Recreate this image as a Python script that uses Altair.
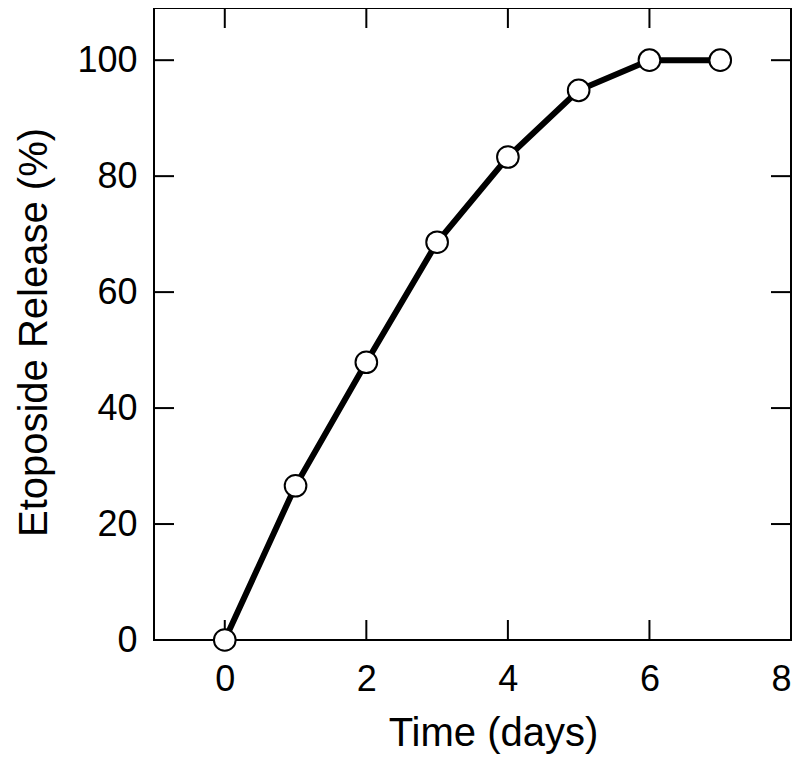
import altair as alt
import pandas as pd

days = [0, 1, 2, 3, 4, 5, 6, 7]
release = [0, 26.6, 47.9, 68.6, 83.3, 94.8, 100, 100]
x_ticks = [0, 2, 4, 6, 8]
y_ticks = [0, 20, 40, 60, 80, 100]

W, H = 637, 632
FONT = "Liberation Sans"

df = pd.DataFrame({"day": days, "release": release})
dfx = pd.DataFrame({"t": x_ticks})
dfy = pd.DataFrame({"v": y_ticks})

xscale = alt.Scale(domain=[-1, 8], nice=False, zero=False)
yscale = alt.Scale(domain=[0, 109], nice=False, zero=False)

xaxis = alt.Axis(
    values=x_ticks, title="Time (days)", grid=False, domain=False, ticks=False, tickSize=0,
    labelFont=FONT, labelFontSize=36, labelColor="black", labelPadding=50,
    labelBaseline="alphabetic", labelFlush=True, labelOverlap=False,
    titleFont=FONT, titleFontSize=40, titleFontWeight="normal", titleColor="black",
    titleX=339, titleY=105, titleBaseline="alphabetic", titleAlign="center",
)
yaxis = alt.Axis(
    values=y_ticks, title="Etoposide Release (%)", grid=False, domain=False, ticks=False, tickSize=0,
    labelFont=FONT, labelFontSize=36, labelColor="black", labelPadding=17,
    labelFlush=False, labelOverlap=False,
    titleFont=FONT, titleFontSize=40, titleFontWeight="normal", titleColor="black",
    titleX=-108, titleY=324, titleBaseline="alphabetic", titleAlign="center", titleAngle=-90,
)

line = alt.Chart(df).mark_line(color="black", strokeWidth=6).encode(
    x=alt.X("day:Q", scale=xscale, axis=xaxis),
    y=alt.Y("release:Q", scale=yscale, axis=yaxis),
)
pts = alt.Chart(df).mark_point(
    shape="circle", filled=True, fill="white", stroke="black", strokeWidth=2, size=470, opacity=1
).encode(
    x=alt.X("day:Q", scale=xscale, axis=xaxis),
    y=alt.Y("release:Q", scale=yscale, axis=yaxis),
)

TL = 20
xt_bottom = alt.Chart(dfx).mark_rule(color="black", strokeWidth=2).encode(
    x=alt.X("t:Q", scale=xscale, axis=xaxis), y=alt.value(H), y2=alt.value(H - TL))
xt_top = alt.Chart(dfx).mark_rule(color="black", strokeWidth=2).encode(
    x=alt.X("t:Q", scale=xscale, axis=xaxis), y=alt.value(0), y2=alt.value(TL))
yt_left = alt.Chart(dfy).mark_rule(color="black", strokeWidth=2).encode(
    y=alt.Y("v:Q", scale=yscale, axis=yaxis), x=alt.value(0), x2=alt.value(TL))
yt_right = alt.Chart(dfy).mark_rule(color="black", strokeWidth=2).encode(
    y=alt.Y("v:Q", scale=yscale, axis=yaxis), x=alt.value(W - TL), x2=alt.value(W))

chart = alt.layer(xt_bottom, xt_top, yt_left, yt_right, line, pts).properties(
    width=W, height=H,
    padding={"left": 146, "top": 0, "right": 1, "bottom": 117},
    autosize=alt.AutoSizeParams(type="none"),
).configure(
    background="white",
    view=alt.ViewConfig(stroke="black", strokeWidth=2),
)

chart.save("out.html", embed_options={"renderer": "svg", "actions": False})
